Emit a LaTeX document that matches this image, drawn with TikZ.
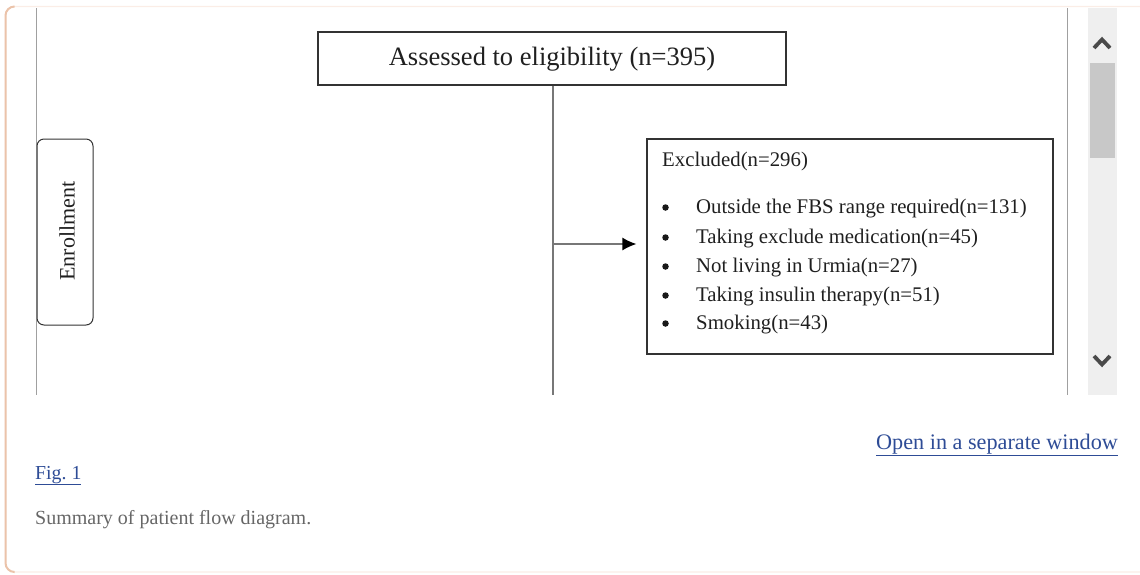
\documentclass[tikz,border=0pt]{standalone}
\usepackage{fontspec}
\setmainfont{Liberation Serif}
\usetikzlibrary{arrows.meta}
\definecolor{peach}{HTML}{EBC3AA}
\definecolor{framepink}{HTML}{FBEDE6}
\definecolor{linkblue}{HTML}{2E4C96}
\definecolor{capgray}{HTML}{666666}
\definecolor{sbbg}{HTML}{EFEFEF}
\definecolor{sbthumb}{HTML}{C8C8C8}
\definecolor{chev}{HTML}{4A4A4A}
\definecolor{boxline}{HTML}{333333}
\definecolor{flowline}{HTML}{777777}
\tikzset{
  flowbox/.style={draw=boxline, line width=1.2pt, inner sep=0pt},
  difont/.style={font=\fontsize{20.8}{24}\selectfont, text=black!88},
  bulletline/.style={difont, anchor=base west, inner sep=0pt},
  bulletdot/.style={circle, fill=black!90, inner sep=0pt, minimum size=6.5pt},
  link/.style={font=\fontsize{22.2}{26}\selectfont, text=linkblue, anchor=base west, inner sep=0pt},
}
\begin{document}
\begin{tikzpicture}[x=1pt,y=-1pt]
\useasboundingbox (0,0) rectangle (1140,574);
% outer frame
\draw[framepink, line width=1.2pt, rounded corners=9pt] (5.5,6.5) rectangle (1150,572);
\draw[peach, line width=2pt, rounded corners=9pt] (14,6.5) -- (5.5,6.5) -- (5.5,572) -- (14,572);
% image edges
\draw[flowline!70, line width=1pt] (36.5,8) -- (36.5,395);
\draw[flowline!70, line width=1pt] (1067.5,8) -- (1067.5,395);
% scrollbar
\fill[sbbg] (1088,8) rectangle (1117,395);
\fill[sbthumb] (1090,63) rectangle (1115,158);
\draw[chev, line width=3.8pt] (1094,48) -- (1102,39.5) -- (1110,48);
\draw[chev, line width=3.8pt] (1094,356) -- (1102,364.5) -- (1110,356);
% nodes
\node[flowbox, minimum width=468pt, minimum height=53pt] (assess) at (552,58.5) {};
\node[font=\fontsize{26.5}{30}\selectfont, text=black!88, anchor=base, inner sep=0pt] (assesstxt) at (552,65.5) {Assessed to eligibility (n=395)};
\node[flowbox, minimum width=406pt, minimum height=215pt] (excl) at (850,246.5) {};
\node[draw=boxline, line width=1pt, rounded corners=7pt, minimum width=56pt, minimum height=186pt, inner sep=0pt] (enroll) at (65,232) {};
\node[font=\fontsize{22}{24}\selectfont, text=black!88, rotate=90, inner sep=0pt] (enrolltxt) at (67,231) {Enrollment};
% excluded text
\node[bulletline] (ex0) at (662,166) {Excluded(n=296)};
\foreach \y/\t [count=\i] in {213/{Outside the FBS range required(n=131)},243/{Taking exclude medication(n=45)},272/{Not living in Urmia(n=27)},301/{Taking insulin therapy(n=51)},329/{Smoking(n=43)}}{
  \node[bulletdot] (b\i) at (665.5,\y-5.5) {};
  \node[bulletline] (t\i) at (696,\y) {\t};
}
% connectors
\coordinate (bottom) at (553,395);
\coordinate (split) at (553,244);
\draw[flowline, line width=1.4pt] (assess.south -| split) -- (bottom);
\draw[flowline, line width=1.4pt, -{Latex[length=14pt,width=13pt,color=black]}, shorten >=10pt] (split) -- (excl.west |- split);
% links and caption
\node[link] (open) at (876,449) {\underline{Open in a separate window}};
\node[link, font=\fontsize{19.8}{24}\selectfont] (fig) at (35,479) {\underline{Fig.~1}};
\node[anchor=base west, inner sep=0pt, text=capgray, font=\fontsize{20}{24}\selectfont] (cap) at (35,524) {Summary of patient flow diagram.};
\end{tikzpicture}
\end{document}
